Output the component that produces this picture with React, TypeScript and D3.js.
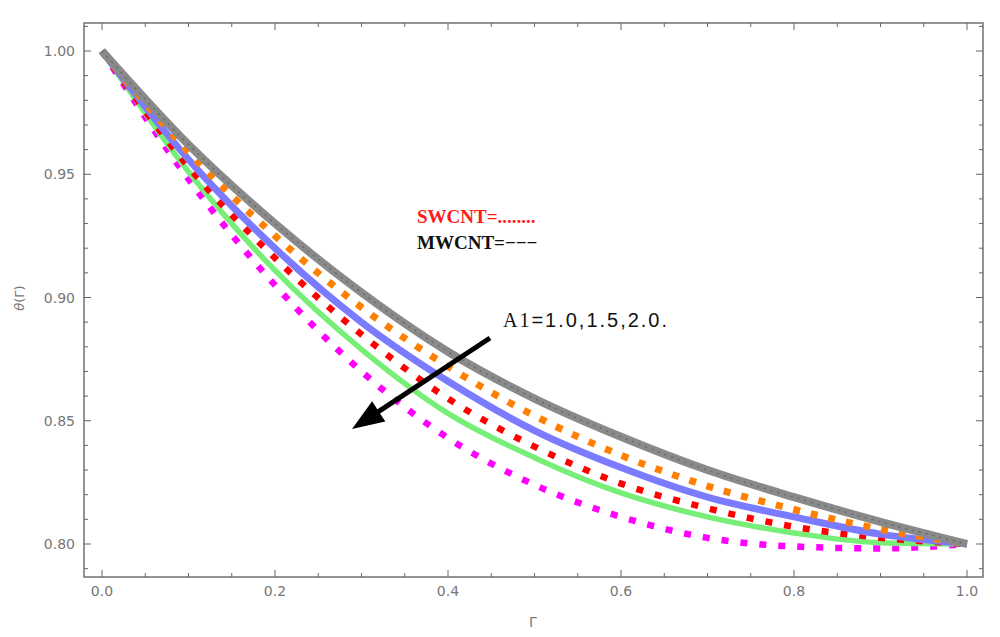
import React from "react";
import * as d3 from "d3";

const xs = [0, 0.1, 0.2, 0.3, 0.4, 0.5, 0.6, 0.7, 0.8, 0.9, 1.0];
const grayMW = [1.0, 0.962, 0.930, 0.902, 0.878, 0.859, 0.8435, 0.830, 0.819, 0.809, 0.800];
const orangeSW = [1.0, 0.959, 0.925, 0.896, 0.872, 0.852, 0.836, 0.8235, 0.814, 0.806, 0.800];
const blueMW = [1.0, 0.956, 0.920, 0.890, 0.866, 0.846, 0.831, 0.819, 0.811, 0.804, 0.800];
const redSW = [1.0, 0.953, 0.916, 0.885, 0.859, 0.8395, 0.8245, 0.8145, 0.807, 0.8025, 0.800];
const greenMW = [1.0, 0.951, 0.911, 0.879, 0.853, 0.835, 0.8207, 0.811, 0.8045, 0.8005, 0.800];
const magentaSW = [1.0, 0.948, 0.905, 0.870, 0.843, 0.824, 0.811, 0.8025, 0.799, 0.7982, 0.800];

const xTicksMajor = [0, 0.2, 0.4, 0.6, 0.8, 1.0];
const yTicksMajor = [0.8, 0.85, 0.9, 0.95, 1.0];

const W = 1000;
const H = 637;

export default function App() {
  const x = d3.scaleLinear().domain([0, 1]).range([102, 967]);
  const y = d3.scaleLinear().domain([0.8, 1]).range([544, 51]);
  const fl = { l: 84, r: 983, t: 23, b: 577 };

  const xMinor = d3.range(0, 21).map((i) => i * 0.05).filter((v) => x(v) <= fl.r);
  const yMinor = d3.range(79, 102).map((i) => i / 100).filter((v) => y(v) >= fl.t && y(v) <= fl.b);

  const line = d3
    .line<number>()
    .x((_, i) => x(xs[i]))
    .y((d) => y(d))
    .curve(d3.curveMonotoneX);

  const tickColor = "#666";
  const labelStyle: React.CSSProperties = { fontFamily: "DejaVu Sans", fontSize: 14, fill: "#777" };

  const isMajorX = (v: number) => xTicksMajor.some((m) => Math.abs(m - v) < 1e-9);
  const isMajorY = (v: number) => yTicksMajor.some((m) => Math.abs(m - v) < 1e-9);

  // arrow
  const a0 = [490, 338];
  const tip = [352, 429];
  const dx = tip[0] - a0[0];
  const dy = tip[1] - a0[1];
  const len = Math.hypot(dx, dy);
  const ux = dx / len;
  const uy = dy / len;
  const headL = 32;
  const headW = 12;
  const base = [tip[0] - ux * headL, tip[1] - uy * headL];
  const p1 = [base[0] - uy * headW, base[1] + ux * headW];
  const p2 = [base[0] + uy * headW, base[1] - ux * headW];
  const lineEnd = [tip[0] - ux * (headL - 4), tip[1] - uy * (headL - 4)];

  return (
    <div style={{ position: "absolute", left: 0, top: 0 }}>
      <svg width={W} height={H} style={{ display: "block", background: "#fff" }}>
        {/* curves */}
        <path d={line(magentaSW) || ""} fill="none" stroke="#ff00ff" strokeWidth={6.5} strokeDasharray="7 12" />
        <path d={line(greenMW) || ""} fill="none" stroke="#77ee77" strokeWidth={5.5} />
        <path d={line(redSW) || ""} fill="none" stroke="#ff0000" strokeWidth={6.5} strokeDasharray="7 12" />
        <path d={line(blueMW) || ""} fill="none" stroke="#7b7bff" strokeWidth={7} />
        <path d={line(orangeSW) || ""} fill="none" stroke="#ff8000" strokeWidth={7} strokeDasharray="7 11" />
        <path d={line(grayMW) || ""} fill="none" stroke="#8a8a8a" strokeWidth={8} />
        <path d={line(grayMW) || ""} fill="none" stroke="#333" strokeWidth={1.6} strokeDasharray="2 5" opacity={0.35} />

        {/* frame */}
        <rect x={fl.l} y={fl.t} width={fl.r - fl.l} height={fl.b - fl.t} fill="none" stroke={tickColor} strokeWidth={1.4} />

        {/* x ticks */}
        {xMinor.map((v, i) => {
          const L = isMajorX(v) ? 7 : 4;
          return (
            <g key={"xt" + i}>
              <line x1={x(v)} x2={x(v)} y1={fl.b} y2={fl.b - L} stroke={tickColor} strokeWidth={1} />
              <line x1={x(v)} x2={x(v)} y1={fl.t} y2={fl.t + L} stroke={tickColor} strokeWidth={1} />
            </g>
          );
        })}
        {/* y ticks */}
        {yMinor.map((v, i) => {
          const L = isMajorY(v) ? 7 : 4;
          return (
            <g key={"yt" + i}>
              <line x1={fl.l} x2={fl.l + L} y1={y(v)} y2={y(v)} stroke={tickColor} strokeWidth={1} />
              <line x1={fl.r} x2={fl.r - L} y1={y(v)} y2={y(v)} stroke={tickColor} strokeWidth={1} />
            </g>
          );
        })}

        {/* tick labels */}
        {xTicksMajor.map((v) => (
          <text key={"xl" + v} x={x(v)} y={596} textAnchor="middle" style={labelStyle}>
            {d3.format(".1f")(v)}
          </text>
        ))}
        {yTicksMajor.map((v) => (
          <text key={"yl" + v} x={75} y={y(v) + 5} textAnchor="end" style={labelStyle}>
            {d3.format(".2f")(v)}
          </text>
        ))}

        {/* axis labels */}
        <text x={533} y={627} textAnchor="middle" style={{ fontFamily: "DejaVu Sans", fontSize: 14, fill: "#777" }}>
          Γ
        </text>
        <text
          transform="translate(24,298) rotate(-90)"
          textAnchor="middle"
          style={{ fontFamily: "DejaVu Sans", fontSize: 13, fill: "#777" }}
        >
          <tspan fontStyle="italic">θ</tspan>(Γ)
        </text>

        {/* legend text */}
        <text x={417} y={223} style={{ fontFamily: "Liberation Serif", fontWeight: "bold", fontSize: 19, fill: "#ff1a1a" }}>
          SWCNT=........
        </text>
        <text x={417} y={249} style={{ fontFamily: "Liberation Serif", fontWeight: "bold", fontSize: 19, fill: "#111" }}>
          MWCNT=−−−
        </text>

        {/* annotation */}
        <text x={503} y={327} textLength={164} lengthAdjust="spacing" style={{ fontSize: 20, fill: "#111" }}>
          <tspan fontFamily="Liberation Serif">A1</tspan>
          <tspan fontFamily="Liberation Sans">=1.0,1.5,2.0.</tspan>
        </text>

        {/* arrow */}
        <line x1={a0[0]} y1={a0[1]} x2={lineEnd[0]} y2={lineEnd[1]} stroke="#000" strokeWidth={5} />
        <polygon points={`${tip[0]},${tip[1]} ${p1[0]},${p1[1]} ${p2[0]},${p2[1]}`} fill="#000" />
      </svg>
    </div>
  );
}
